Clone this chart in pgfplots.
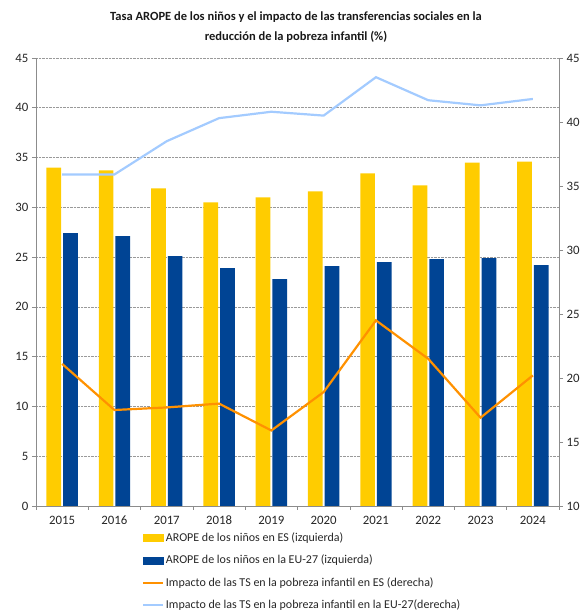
\documentclass[border=0pt]{standalone}
\usepackage{fontspec}
\setmainfont{Carlito}
\usepackage{pgfplots}
\pgfplotsset{compat=1.18}
\definecolor{cyel}{HTML}{FFCC00}
\definecolor{cblu}{HTML}{004494}
\definecolor{corg}{HTML}{FF9100}
\definecolor{clbl}{HTML}{A3CBFF}
\definecolor{caxis}{HTML}{8C8C8C}
\begin{document}
\begin{tikzpicture}[x=1pt,y=1pt]
\path[use as bounding box] (0,0) rectangle (585,612);
\node[align=center,font=\fontsize{12.5}{20}\selectfont\bfseries,text=black!90] at (296,585)
 {Tasa AROPE de los niños y el impacto de las transferencias sociales en la\\reducción de la pobreza infantil (\%)};
\begin{axis}[
  at={(36pt,106pt)}, anchor=south west,
  scale only axis, width=523pt, height=448pt,
  xmin=-0.5, xmax=9.5, ymin=0, ymax=45,
  axis x line*=bottom, axis y line*=left,
  axis line style={caxis, line width=0.8pt},
  ytick={0,5,...,45},
  ytick align=outside, major tick length=4pt,
  tick style={caxis, line width=0.6pt},
  ymajorgrids, grid style={gray!80, densely dotted, line width=0.6pt},
  xtick={-0.5,0.5,...,9.5}, xticklabels={},
  extra x ticks={0,1,2,3,4,5,6,7,8,9},
  extra x tick labels={2015,2016,2017,2018,2019,2020,2021,2022,2023,2024},
  extra x tick style={major tick length=0pt, grid=none},
  xtick align=outside,
  ticklabel style={font=\fontsize{12.8}{14}\selectfont, text=black!85},
  xticklabel style={text height=9pt, text depth=0pt, yshift=-6pt},
  /pgf/number format/assume math mode=true,
  ybar=2pt, bar width=14.7pt,
]
\addplot[fill=cyel, draw=none] coordinates {(0,34.0) (1,33.7) (2,31.9) (3,30.5) (4,31.0) (5,31.6) (6,33.4) (7,32.2) (8,34.5) (9,34.6)};
\addplot[fill=cblu, draw=none] coordinates {(0,27.4) (1,27.1) (2,25.1) (3,23.9) (4,22.8) (5,24.1) (6,24.5) (7,24.8) (8,24.9) (9,24.2)};
\end{axis}
\begin{axis}[
  at={(36pt,106pt)}, anchor=south west,
  scale only axis, width=523pt, height=448pt,
  xmin=-0.5, xmax=9.5, ymin=10, ymax=45,
  axis x line=none, axis y line*=right,
  axis line style={caxis, line width=0.8pt},
  ytick={10,15,...,45},
  ytick align=outside, major tick length=4pt,
  tick style={caxis, line width=0.6pt},
  ticklabel style={font=\fontsize{12.8}{14}\selectfont, text=black!85},
  /pgf/number format/assume math mode=true,
  legend style={at={(0.197,-0.05)}, anchor=north west, draw=none, fill=none,
    font=\fontsize{12}{14}\selectfont, text=black!85, row sep=8.2pt,
    /tikz/every even column/.append style={column sep=0pt},
    nodes={inner xsep=1.5pt}},
  legend cell align=left,
]
\addlegendimage{legend image code/.code={\fill[cyel] (0pt,-3.5pt) rectangle (20pt,3.5pt);}}
\addlegendentry{AROPE de los niños en ES (izquierda)}
\addlegendimage{legend image code/.code={\fill[cblu] (0pt,-3.5pt) rectangle (20pt,3.5pt);}}
\addlegendentry{AROPE de los niños en la EU-27 (izquierda)}
\addplot[corg, line width=2.2pt, mark=none, legend image code/.code={\draw[corg,line width=2.2pt] (0pt,0pt) -- (20pt,0pt);}] coordinates {(0,21.1) (1,17.5) (2,17.7) (3,18.0) (4,15.9) (5,18.9) (6,24.5) (7,21.5) (8,16.9) (9,20.2)};
\addlegendentry{Impacto de las TS en la pobreza infantil en ES (derecha)}
\addplot[clbl, line width=2.2pt, mark=none, legend image code/.code={\draw[clbl,line width=2.2pt] (0pt,0pt) -- (20pt,0pt);}] coordinates {(0,35.9) (1,35.9) (2,38.5) (3,40.3) (4,40.8) (5,40.5) (6,43.5) (7,41.7) (8,41.3) (9,41.8)};
\addlegendentry{Impacto de las TS en la pobreza infantil en la EU-27(derecha)}
\end{axis}
\end{tikzpicture}
\end{document}
